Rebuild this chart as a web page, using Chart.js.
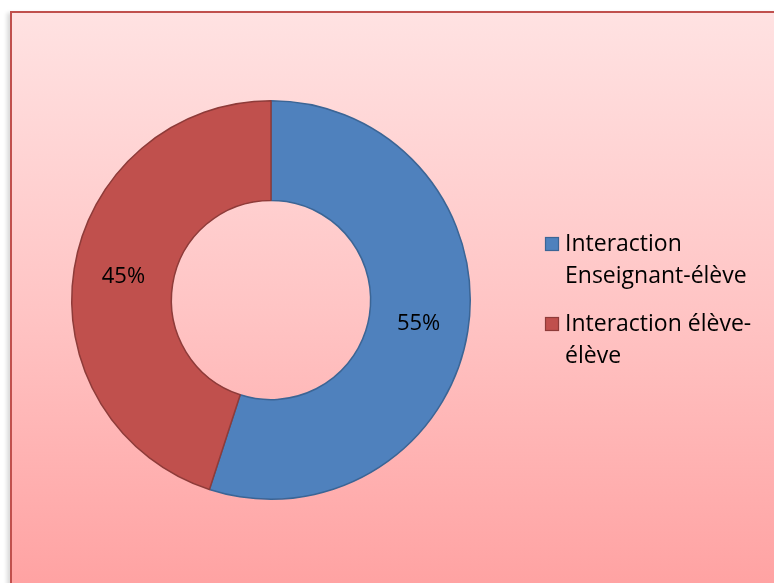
<!DOCTYPE html>
<html>
<head>
<meta charset="utf-8">
<script src="https://cdn.jsdelivr.net/npm/chart.js@4"></script>
<style>
  html, body { margin: 0; padding: 0; background: #fff; overflow: hidden; }
  body { width: 774px; height: 583px; position: relative; }
  #frame {
    position: absolute; left: 10px; top: 11px; width: 780px; height: 600px;
    border-left: 2px solid #C0504D; border-top: 2px solid #C0504D;
    background: linear-gradient(to bottom, #FFE2E2 0%, #FFC4C4 50%, #FF9F9F 100%);
    box-shadow: -3px 2px 4px rgba(0,0,0,0.15);
  }
  #chart { position: absolute; left: 0; top: 0; }
</style>
</head>
<body>
<div id="frame"></div>
<canvas id="chart" width="774" height="583"></canvas>
<script>
// === Données ===
const categories = [['Interaction', 'Enseignant-élève'], ['Interaction élève-', 'élève']];
const valeurs = [55, 45];
const couleurs = ['#4F81BD', '#C0504D'];
const bordures = ['#3B6595', '#8E3B39'];

const police = '"Open Sans", sans-serif';

// === Étiquettes en pourcentage + légende dessinée à la main ===
const etiquettes = {
  id: 'etiquettes',
  afterDatasetsDraw(chart) {
    const ctx = chart.ctx;
    const meta = chart.getDatasetMeta(0);
    const total = valeurs.reduce((a, b) => a + b, 0);
    ctx.save();
    ctx.font = '22px ' + police;
    ctx.fillStyle = '#000';
    ctx.textAlign = 'center';
    ctx.textBaseline = 'middle';
    meta.data.forEach((arc, i) => {
      const p = arc.tooltipPosition();
      ctx.fillText(Math.round(valeurs[i] / total * 100) + '%', p.x, p.y);
    });

    // Légende
    const x0 = 545, y0 = 244, lh = 32, gap = 48;
    let y = y0;
    categories.forEach((lignes, i) => {
      ctx.fillStyle = couleurs[i];
      ctx.fillRect(x0, y - 7, 14, 14);
      ctx.strokeStyle = bordures[i];
      ctx.lineWidth = 1.2;
      ctx.strokeRect(x0 + 0.5, y - 6.5, 13, 13);
      ctx.fillStyle = '#000';
      ctx.textAlign = 'left';
      ctx.font = '23px ' + police;
      lignes.forEach((t, j) => ctx.fillText(t, x0 + 20, y + j * lh));
      y += (lignes.length - 1) * lh + gap;
    });
    ctx.restore();
  }
};

new Chart(document.getElementById('chart'), {
  type: 'doughnut',
  data: {
    labels: categories.map(l => l.join(' ')),
    datasets: [{
      data: valeurs,
      backgroundColor: couleurs,
      borderColor: bordures,
      borderWidth: 1.5,
      hoverOffset: 0
    }]
  },
  options: {
    responsive: false,
    animation: false,
    cutout: '50%',
    layout: { padding: { left: 71, top: 100, right: 303, bottom: 83 } },
    plugins: {
      legend: { display: false },
      tooltip: { enabled: false }
    }
  },
  plugins: [etiquettes]
});
</script>
</body>
</html>
